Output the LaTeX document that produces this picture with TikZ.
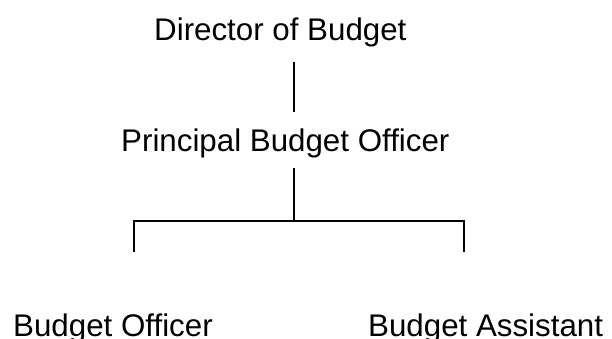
\documentclass[tikz,border=0pt]{standalone}
\usepackage{fontspec}
\setmainfont{Liberation Sans}
\begin{document}
\begin{tikzpicture}[x=1pt,y=-1pt,
  lbl/.style={anchor=base west,inner sep=0pt,font=\fontsize{31.3}{36}\selectfont},
  conn/.style={line width=1.3pt,black}]
\useasboundingbox (0,0) rectangle (612,339);
\node[lbl] (dir) at (154,41) {Director of Budget};
\node[lbl] (pbo) at (121,152) {Principal Budget Officer};
\node[lbl] (bo) at (13,336) {Budget Officer};
\node[lbl] (ba) at (368,336) {Budget Assistant};
\coordinate (d1) at (294,62);
\coordinate (d2) at (294,112);
\coordinate (p1) at (294,168);
\coordinate (p2) at (294,221);
\coordinate (l1) at (134,221);
\coordinate (l2) at (134,252);
\coordinate (r1) at (464,221);
\coordinate (r2) at (464,252);
\draw[conn] (d1) -- (d2);
\draw[conn] (p1) -- (p2);
\draw[conn] (l2) -- (l1) -- (r1) -- (r2);
\end{tikzpicture}
\end{document}
